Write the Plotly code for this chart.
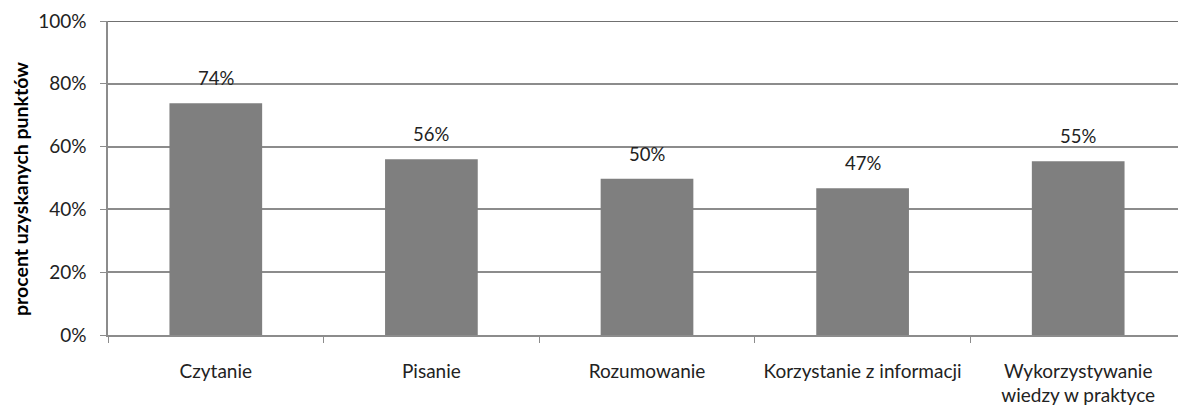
import plotly.graph_objects as go

categories = ["Czytanie", "Pisanie", "Rozumowanie", "Korzystanie z informacji",
              "Wykorzystywanie<br>wiedzy w praktyce"]
values = [73.8, 56.0, 49.8, 46.7, 55.3]
labels = ["74%", "56%", "50%", "47%", "55%"]
y_ticks = [0, 20, 40, 60, 80, 100]
y_tick_labels = ["0%", "20%", "40%", "60%", "80%", "100%"]
y_title = "procent uzyskanych punktów"

FONT = "Lato, 'Open Sans', sans-serif"

fig = go.Figure()
fig.add_trace(go.Bar(
    x=categories, y=values,
    marker=dict(color="#7f7f7f", line=dict(width=0)),
    width=0.43,
    hoverinfo="skip",
))

for c, v, t in zip(categories, values, labels):
    fig.add_annotation(x=c, y=v, text=t, showarrow=False, yanchor="bottom",
                       yshift=12, font=dict(family=FONT, size=18.5, color="#222222"))

# y-axis title as rotated annotation
fig.add_annotation(xref="paper", yref="paper", x=0, y=0.465, xanchor="center",
                   yanchor="middle", xshift=-87, textangle=-90, showarrow=False,
                   text="<b>" + y_title + "</b>",
                   font=dict(family=FONT, size=19.5, color="#000000"))

fig.update_layout(
    width=1178, height=399,
    margin=dict(l=100, r=0, t=13, b=72, autoexpand=False),
    paper_bgcolor="white", plot_bgcolor="white",
    showlegend=False,
    font=dict(family=FONT, size=18, color="#222222"),
    bargap=0.57,
)
fig.update_xaxes(
    type="category", automargin=False,
    showline=True, linecolor="#8c8c8c", linewidth=1.5,
    ticks="outside", tickson="boundaries", ticklen=6, tickcolor="#8c8c8c",
    showgrid=False,
    ticklabelstandoff=18,
    tickfont=dict(family=FONT, size=19, color="#222222"),
)
fig.update_yaxes(
    range=[0, 100], automargin=False,
    tickvals=y_ticks, ticktext=y_tick_labels,
    showline=True, linecolor="#8c8c8c", linewidth=1.5,
    ticks="outside", ticklen=6, tickcolor="#8c8c8c",
    showgrid=True, gridcolor="#8c8c8c", gridwidth=1.5,
    zeroline=False,
    ticklabelstandoff=10,
    tickfont=dict(family=FONT, size=19, color="#222222"),
)
# darker top border line
fig.add_shape(type="line", xref="paper", yref="y", x0=0, x1=1, y0=100, y1=100,
              line=dict(color="#404040", width=1.5))

fig.write_html("out.html")
